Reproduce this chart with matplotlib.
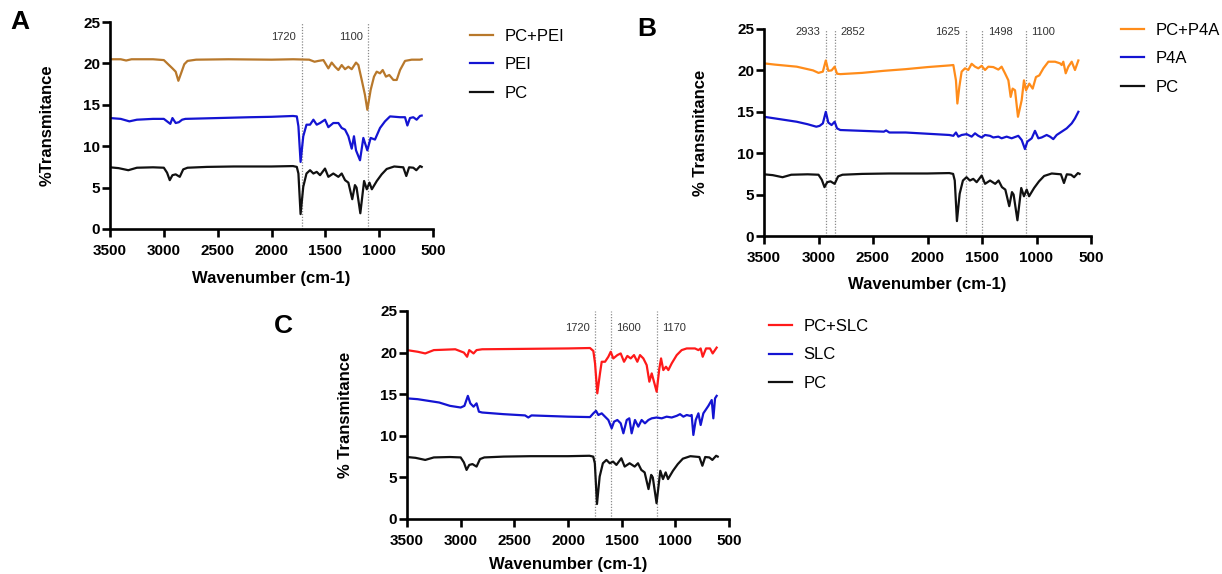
import numpy as np
import matplotlib
matplotlib.use("Agg")
import matplotlib.pyplot as plt

plt.rcParams['font.family'] = ['Liberation Sans', 'DejaVu Sans']

W, H = 1222, 574

# FTIR spectra: (wavenumber cm-1, %T)
pc = [(3500, 7.45), (3420, 7.35), (3330, 7.1), (3250, 7.4), (3100, 7.45), (3000, 7.4),
      (2970, 6.8), (2945, 5.9), (2920, 6.5), (2890, 6.6), (2852, 6.3), (2820, 7.2),
      (2780, 7.4), (2600, 7.5), (2350, 7.55), (2000, 7.55), (1800, 7.6), (1765, 7.5),
      (1750, 6.7), (1730, 1.8), (1705, 5.1), (1675, 6.7), (1642, 7.1), (1611, 6.7),
      (1580, 6.9), (1549, 6.5), (1503, 7.3), (1472, 6.3), (1426, 6.7), (1379, 6.3),
      (1348, 6.7), (1317, 5.9), (1286, 5.6), (1250, 3.6), (1225, 5.3), (1210, 5.0),
      (1175, 1.9), (1140, 5.8), (1115, 4.8), (1090, 5.6), (1068, 4.8), (1022, 5.8),
      (977, 6.6), (930, 7.25), (860, 7.55), (776, 7.45), (748, 6.4), (722, 7.45),
      (683, 7.4), (655, 7.1), (620, 7.6), (605, 7.5)]

pei = [(3500, 13.4), (3400, 13.3), (3320, 13.0), (3250, 13.2), (3100, 13.3), (3000, 13.3),
       (2960, 12.9), (2940, 12.7), (2920, 13.4), (2890, 12.8), (2860, 12.9), (2830, 13.2),
       (2800, 13.3), (2500, 13.4), (2200, 13.5), (2000, 13.55), (1800, 13.65), (1765, 13.6),
       (1750, 12.4), (1730, 8.1), (1705, 11.2), (1675, 12.6), (1642, 12.6), (1611, 13.2),
       (1580, 12.6), (1549, 12.8), (1503, 13.2), (1472, 12.3), (1426, 12.8), (1379, 12.8),
       (1348, 12.2), (1317, 12.0), (1286, 11.2), (1255, 9.7), (1234, 11.2), (1215, 9.5),
       (1178, 8.3), (1147, 11.0), (1110, 9.5), (1079, 11.0), (1039, 10.8), (992, 12.2),
       (946, 13.0), (899, 13.6), (806, 13.5), (760, 13.5), (738, 12.5), (714, 13.4),
       (683, 13.5), (652, 13.2), (621, 13.65), (605, 13.7)]

pc_pei = [(3500, 20.5), (3400, 20.5), (3350, 20.35), (3300, 20.5), (3100, 20.5), (3000, 20.4),
          (2960, 19.9), (2920, 19.4), (2890, 19.0), (2865, 17.9), (2840, 18.8), (2810, 19.9),
          (2780, 20.3), (2700, 20.45), (2400, 20.5), (2000, 20.45), (1800, 20.5), (1650, 20.45),
          (1600, 20.2), (1565, 20.3), (1518, 20.4), (1472, 19.4), (1441, 20.1), (1410, 19.6),
          (1379, 19.2), (1348, 19.8), (1317, 19.3), (1286, 19.6), (1255, 19.3), (1215, 20.1),
          (1193, 19.8), (1162, 18.0), (1132, 16.2), (1110, 14.4), (1079, 16.8), (1048, 18.4),
          (1023, 19.0), (992, 18.8), (967, 19.2), (937, 18.4), (906, 18.6), (868, 18.0),
          (837, 18.0), (806, 19.2), (760, 20.3), (698, 20.45), (621, 20.45), (605, 20.5)]

p4a = [(3500, 14.4), (3400, 14.2), (3300, 14.0), (3200, 13.8), (3100, 13.5), (3020, 13.2),
       (2990, 13.3), (2960, 13.6), (2933, 15.0), (2910, 13.7), (2880, 13.4), (2852, 13.8),
       (2830, 13.0), (2800, 12.8), (2700, 12.75), (2500, 12.65), (2400, 12.6), (2380, 12.75),
       (2350, 12.5), (2200, 12.5), (2000, 12.35), (1800, 12.2), (1763, 12.1), (1739, 12.5),
       (1717, 12.0), (1687, 12.2), (1641, 12.3), (1595, 12.0), (1564, 12.4), (1534, 12.1),
       (1503, 11.9), (1472, 12.2), (1427, 12.1), (1396, 11.9), (1350, 12.0), (1320, 11.8),
       (1274, 12.0), (1228, 11.8), (1167, 12.1), (1136, 11.6), (1106, 10.5), (1084, 11.4),
       (1044, 11.8), (1014, 12.7), (983, 11.8), (953, 11.9), (907, 12.2), (876, 12.0),
       (846, 11.7), (815, 12.2), (769, 12.6), (723, 13.0), (677, 13.6), (647, 14.2),
       (616, 15.0)]

pc_p4a = [(3500, 20.85), (3400, 20.7), (3200, 20.45), (3050, 20.0), (3000, 19.7), (2960, 19.85),
          (2933, 21.2), (2910, 19.95), (2880, 20.0), (2852, 20.45), (2830, 19.6), (2800, 19.55),
          (2600, 19.7), (2400, 19.95), (2200, 20.15), (2000, 20.4), (1800, 20.6), (1763, 20.65),
          (1739, 18.8), (1726, 16.0), (1708, 18.0), (1687, 19.85), (1656, 20.25), (1626, 20.05),
          (1595, 20.8), (1564, 20.45), (1534, 20.25), (1503, 20.55), (1472, 20.05), (1442, 20.45),
          (1396, 20.4), (1350, 20.1), (1320, 20.45), (1289, 19.65), (1258, 18.8), (1237, 16.8),
          (1219, 17.8), (1197, 17.6), (1170, 14.4), (1136, 16.4), (1115, 18.8), (1096, 17.6),
          (1066, 18.4), (1035, 17.8), (1005, 19.2), (974, 19.4), (937, 20.25), (891, 21.05),
          (830, 21.05), (784, 20.85), (769, 20.65), (754, 21.05), (732, 19.65), (708, 20.45),
          (677, 21.05), (647, 20.05), (616, 21.2)]

slc = [(3500, 14.5), (3400, 14.4), (3300, 14.2), (3200, 14.0), (3100, 13.6), (3000, 13.4),
       (2965, 13.6), (2933, 14.8), (2910, 13.9), (2880, 13.5), (2852, 13.9), (2830, 12.9),
       (2800, 12.8), (2600, 12.6), (2400, 12.45), (2370, 12.2), (2340, 12.45), (2000, 12.3),
       (1795, 12.25), (1764, 12.7), (1739, 13.0), (1717, 12.5), (1686, 12.7), (1655, 12.3),
       (1624, 11.9), (1593, 10.9), (1571, 11.7), (1540, 11.9), (1509, 11.5), (1484, 10.3),
       (1453, 11.9), (1429, 12.1), (1407, 10.3), (1376, 11.9), (1345, 11.1), (1314, 11.9),
       (1283, 11.5), (1251, 11.9), (1220, 12.1), (1174, 12.2), (1127, 12.1), (1081, 12.3),
       (1034, 12.2), (987, 12.4), (956, 12.6), (925, 12.3), (894, 12.5), (863, 12.4),
       (848, 12.5), (832, 10.1), (810, 11.9), (785, 12.7), (764, 11.3), (739, 12.7),
       (692, 13.6), (661, 14.3), (646, 12.1), (630, 14.5), (615, 14.8)]

pc_slc = [(3500, 20.3), (3400, 20.1), (3330, 19.9), (3250, 20.3), (3050, 20.4), (2970, 20.0),
          (2940, 19.5), (2920, 20.3), (2880, 19.9), (2852, 20.3), (2800, 20.4), (2400, 20.45),
          (2000, 20.5), (1795, 20.55), (1764, 20.2), (1748, 18.7), (1727, 15.1), (1702, 17.5),
          (1686, 18.9), (1655, 18.9), (1624, 19.5), (1602, 20.1), (1578, 19.3), (1540, 19.7),
          (1509, 19.9), (1478, 18.9), (1447, 19.6), (1416, 19.3), (1385, 19.7), (1354, 18.9),
          (1329, 19.7), (1298, 19.3), (1267, 18.5), (1242, 16.5), (1220, 17.5), (1199, 16.5),
          (1174, 15.3), (1149, 18.1), (1133, 19.3), (1112, 17.9), (1087, 18.3), (1065, 17.9),
          (1034, 18.7), (987, 19.7), (941, 20.3), (894, 20.5), (817, 20.5), (785, 20.3),
          (764, 20.5), (745, 19.5), (714, 20.5), (677, 20.5), (652, 19.9), (615, 20.6)]

# marker lines: (position, label, text side)
marks_a = [(1720, '1720', 'left'), (1100, '1100', 'left')]
marks_b = [(2933, '2933', 'left'), (2852, '2852', 'right'), (1650, '1625', 'left'),
           (1498, '1498', 'right'), (1100, '1100', 'right')]
marks_c = [(1745, '1720', 'left'), (1600, '1600', 'right'), (1172, '1170', 'right')]

xticks = [3500, 3000, 2500, 2000, 1500, 1000, 500]
yticks = [0, 5, 10, 15, 20, 25]


def px_rect(l, t, r, b):
    return [l / W, 1 - b / H, (r - l) / W, (b - t) / H]


def draw_panel(fig, rect, series, marks, mark_y, ylabel, ylab_px, xlab_px, leg_xy):
    ax = fig.add_axes(rect)
    lines = []
    for data, color, name in series:
        arr = np.array(data).T
        ln, = ax.plot(arr[0], arr[1], color=color, lw=1.6, label=name)
        lines.append(ln)

    for x, txt, side in marks:
        ax.axvline(x, color='#8a8a8a', lw=0.9, ls=(0, (1, 1.3)), zorder=0)
        off = -4 if side == 'left' else 4
        ax.annotate(txt, (x, mark_y), xytext=(off, 0), textcoords='offset points',
                    ha='right' if side == 'left' else 'left', va='center',
                    fontsize=8, color='#333333')

    ax.set_xlim(3500, 500)
    ax.set_ylim(0, 25)
    ax.set_xticks(xticks)
    ax.set_yticks(yticks)
    for s in ['top', 'right']:
        ax.spines[s].set_visible(False)
    for s in ['left', 'bottom']:
        ax.spines[s].set_linewidth(1.9)
    ax.tick_params(axis='x', direction='out', length=5.5, width=1.9, pad=5.5, labelsize=11)
    ax.tick_params(axis='y', direction='out', length=5.5, width=1.9, pad=1.5, labelsize=11)
    for lbl in ax.get_xticklabels() + ax.get_yticklabels():
        lbl.set_fontweight('bold')

    wpx = rect[2] * W
    hpx = rect[3] * H
    ax.set_xlabel('Wavenumber (cm-1)', fontsize=12, fontweight='bold')
    ax.xaxis.set_label_coords(0.5, -xlab_px / hpx)
    ax.set_ylabel(ylabel, fontsize=12, fontweight='bold')
    ax.yaxis.set_label_coords(-ylab_px / wpx, 0.5)

    ax.legend(handles=lines, loc='upper left',
              bbox_to_anchor=(leg_xy[0] / W, 1 - leg_xy[1] / H),
              bbox_transform=fig.transFigure, frameon=False, fontsize=12,
              borderpad=0, borderaxespad=0, handlelength=1.35, handletextpad=0.7,
              labelspacing=0.8)
    return ax


def doit():
    fig = plt.figure(figsize=(W / 100, H / 100), dpi=100)

    draw_panel(fig, px_rect(110, 22, 433, 229),
               [(pc_pei, '#b8782b', 'PC+PEI'), (pei, '#1414d2', 'PEI'), (pc, '#111111', 'PC')],
               marks_a, 23.2, '%Transmitance', 55, 42, (470, 29))
    draw_panel(fig, px_rect(764, 29, 1091, 236),
               [(pc_p4a, '#ff8c1a', 'PC+P4A'), (p4a, '#1414d2', 'P4A'), (pc, '#111111', 'PC')],
               marks_b, 24.6, '% Transmitance', 56, 41, (1121, 23))
    draw_panel(fig, px_rect(407, 311, 729, 519),
               [(pc_slc, '#ff1a1a', 'PC+SLC'), (slc, '#1414d2', 'SLC'), (pc, '#111111', 'PC')],
               marks_c, 23.0, '% Transmitance', 54, 38, (769, 319))

    for letter, x, y in [('A', 20, 22), ('B', 647, 29), ('C', 283, 326)]:
        fig.text(x / W, 1 - y / H, letter, ha='center', va='center',
                 fontsize=19, fontweight='bold')

    fig.savefig('out.png', dpi=100)


if __name__ == '__main__':
    doit()
